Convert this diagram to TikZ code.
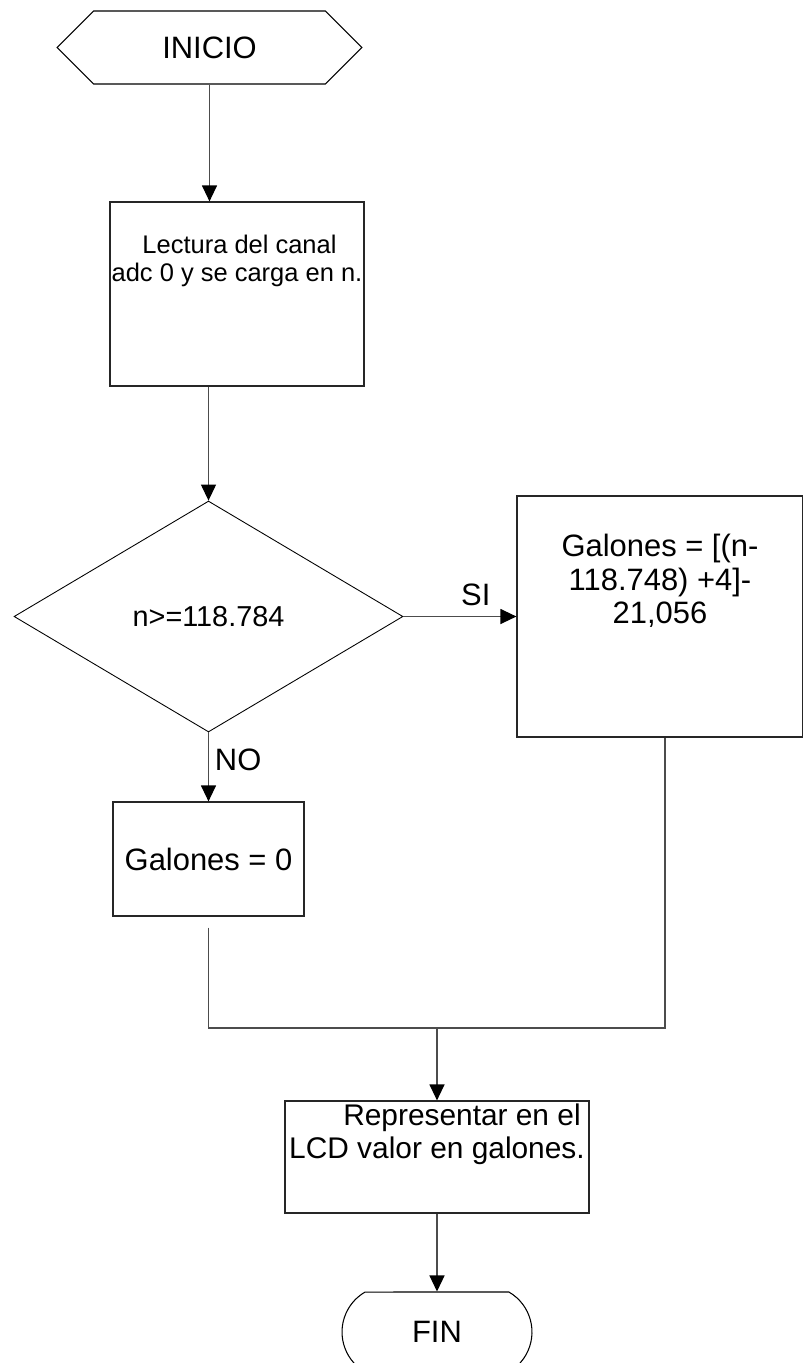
\documentclass[tikz,border=0pt]{standalone}
\usepackage{fontspec}
\setmainfont{Liberation Sans}
\usetikzlibrary{positioning,shapes.geometric,shapes.symbols,shapes.misc,arrows.meta}

% texto pegado arriba dentro de una caja de alto fijo
\newcommand{\textocaja}[4]{\parbox[c][#2][t]{#1}{\centering\vspace*{#3}#4}}

\begin{document}
\begin{tikzpicture}[x=0.02cm,y=-0.02cm,>={Triangle[length=0.32cm,width=0.3cm,color=black]},
    every node/.style={font=\fontsize{17.6}{19}\selectfont},
    linea/.style={draw=black!70,line width=0.7pt},
    caja/.style={draw=black!85,line width=0.7pt,rectangle,inner sep=0pt}]
    \useasboundingbox (0,0) rectangle (803,1363);

    % inicio, lectura y comparacion
    \node[draw,line width=0.6pt,signal,signal to=east and west,signal pointer angle=90,
          minimum width=6.1cm,minimum height=1.46cm,inner sep=0pt] (inicio) at (209.5,47.5) {INICIO};
    \node[caja] (lectura) at (237,294)
        {\textocaja{5.08cm}{3.68cm}{0.67cm}{\fontsize{14.5}{15.8}\selectfont\hspace*{0.1cm}Lectura del canal\\adc 0 y se carga en n.}};
    \node[draw,line width=0.5pt,diamond,minimum width=7.78cm,minimum height=4.62cm,inner sep=0pt,
          font=\fontsize{16.4}{18}\selectfont] (decision) at (208.5,616.5) {n>=118.784};

    % las dos ramas
    \node[caja] (formula) at (660,616.5)
        {\textocaja{5.72cm}{4.82cm}{0.77cm}{Galones = [(n-\\118.748) +4]-\\21,056}};
    \node[caja,minimum width=3.82cm,minimum height=2.28cm] (cero) at (208.5,859) {Galones = 0};

    % salida y fin
    \node[caja] (mostrar) at (437,1157)
        {\textocaja{6.08cm}{2.24cm}{0.05cm}{\fontsize{17}{19}\selectfont\hspace*{1cm}Representar en el\\LCD valor en galones.}};
    \node[draw,line width=0.6pt,rounded rectangle,rounded rectangle arc length=120,
          minimum width=3.8cm,minimum height=1.6cm,inner sep=0pt] (fin) at (437,1332) {FIN};

    \coordinate (union) at (437,1028);

    \draw[linea,->] (inicio.south) -- (inicio.south |- lectura.north);
    \draw[linea,->] (decision.north |- lectura.south) -- (decision.north);
    \draw[linea,->] (decision.east) -- (formula.west) node[pos=0.64,above=2.6pt] {SI};
    \draw[linea,->] (decision.south) -- (cero.north) node[pos=0.4,right=0pt] {NO};
    \draw[linea] ([yshift=-0.22cm]cero.south) |- (union) -| ([xshift=0.1cm]formula.south);
    \draw[linea,->] (union) -- (mostrar.north);
    \draw[linea,->] (mostrar.south) -- (fin.north);
\end{tikzpicture}
\end{document}
